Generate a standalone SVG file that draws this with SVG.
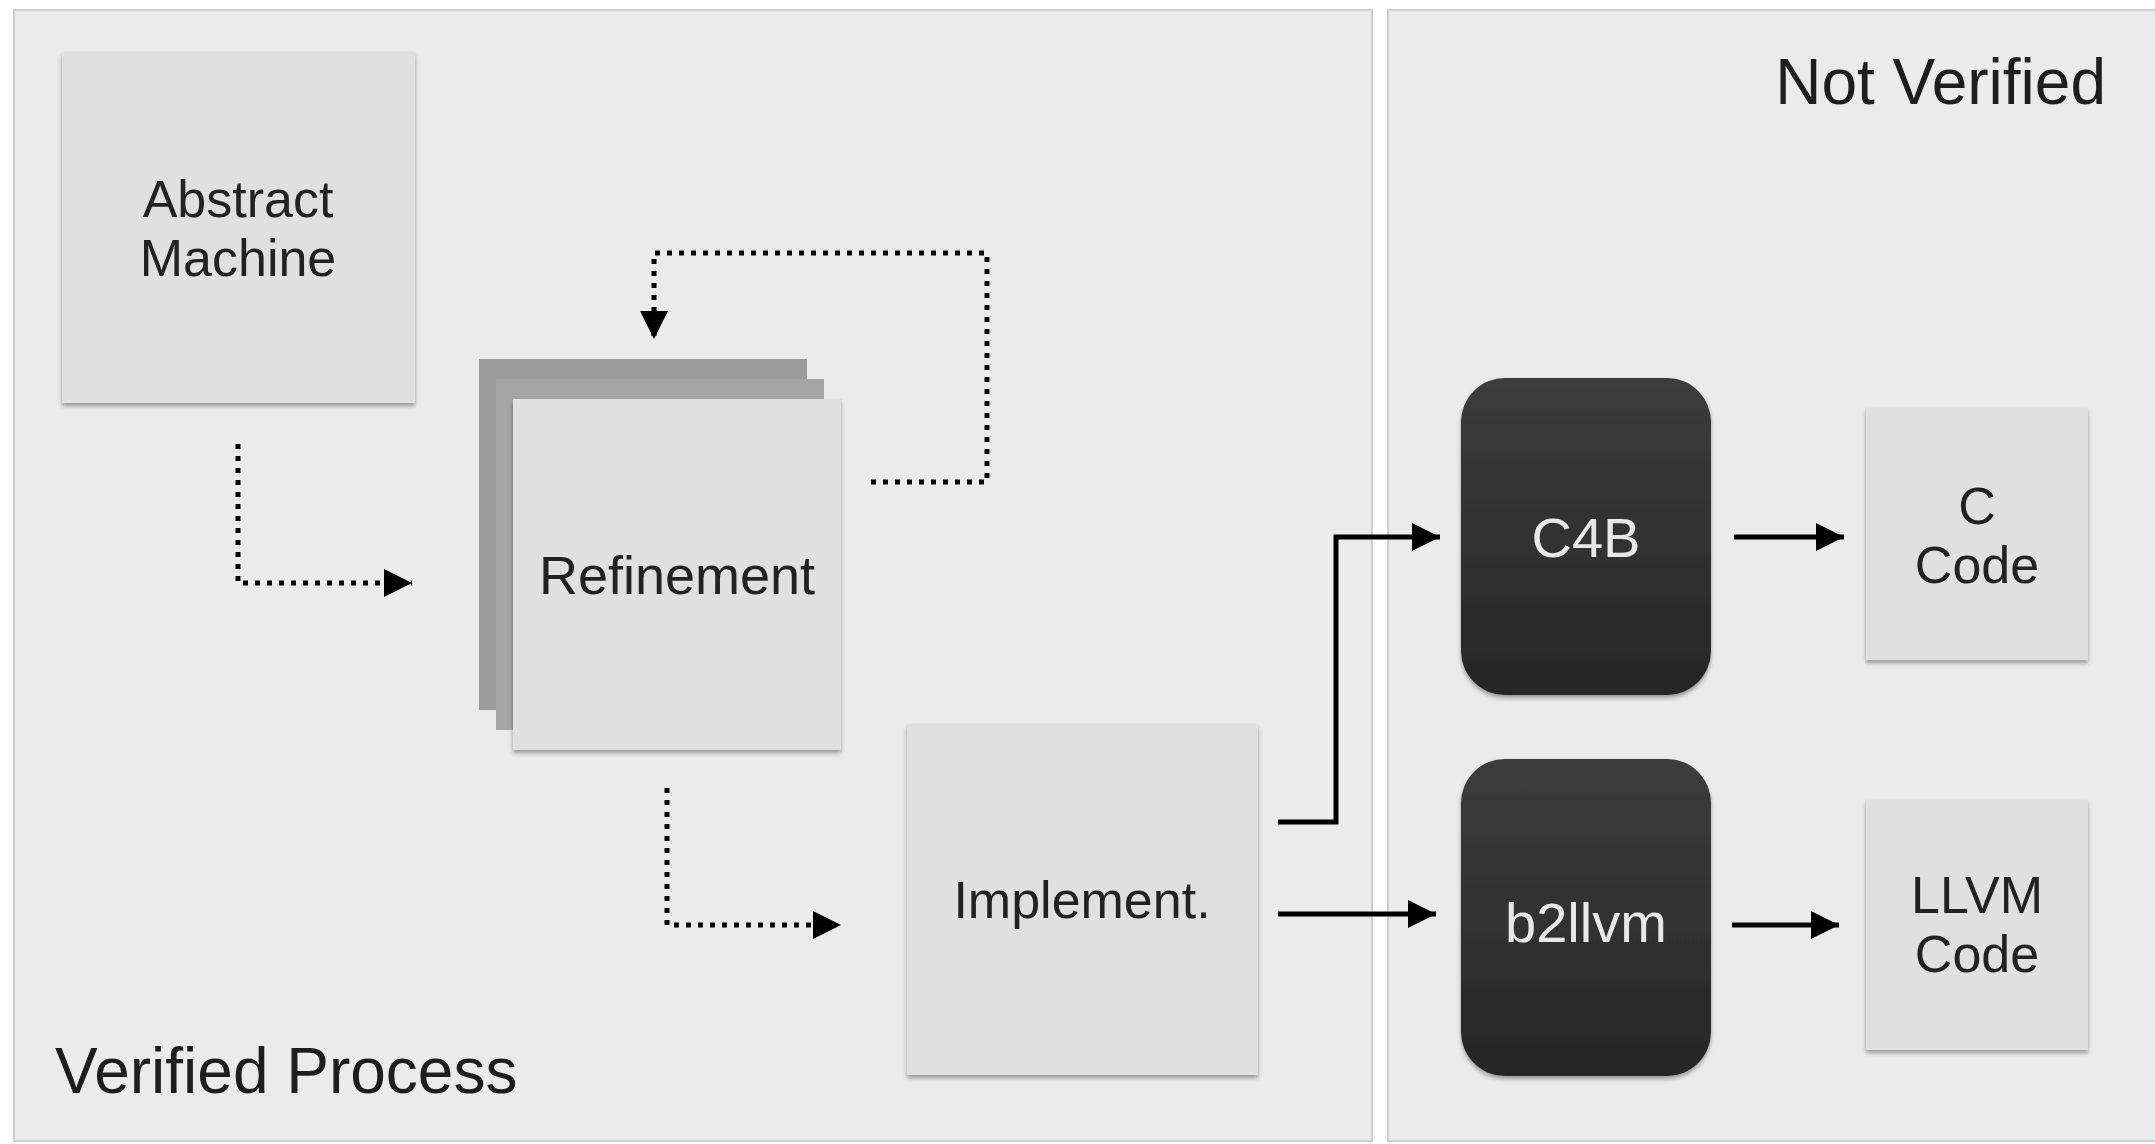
<svg xmlns="http://www.w3.org/2000/svg" width="2155" height="1144" viewBox="0 0 2155 1144">
  <defs>
    <style>
      .panel { fill: #ebebeb; stroke: #cfcfcf; stroke-width: 2; }
      .box { fill: #e0e0e0; filter: url(#shadow); }
      .dark { fill: url(#darkGrad); filter: url(#shadow); }
      .t { font-family: "Liberation Sans", Arial, sans-serif; font-size: 52px; fill: #222; text-anchor: middle; }
      .tw { font-family: "Liberation Sans", Arial, sans-serif; font-size: 56px; fill: #e8e8e8; text-anchor: middle; }
      .big { font-family: "Liberation Sans", Arial, sans-serif; font-size: 64px; fill: #1e1e1e; }
      .dot { fill: none; stroke: #000; stroke-width: 5; stroke-dasharray: 5 7; }
      .solid { fill: none; stroke: #000; stroke-width: 5; }
    </style>
    <linearGradient id="darkGrad" x1="0" y1="0" x2="0" y2="1">
      <stop offset="0" stop-color="#3c3c3c"/>
      <stop offset="1" stop-color="#262626"/>
    </linearGradient>
    <filter id="shadow" x="-10%" y="-10%" width="120%" height="125%">
      <feDropShadow dx="0" dy="3" stdDeviation="2" flood-color="#000" flood-opacity="0.35"/>
    </filter>
    <marker id="arr" viewBox="0 0 28 28" refX="28" refY="14" markerWidth="28" markerHeight="28" markerUnits="userSpaceOnUse" orient="auto">
      <path d="M0,0 L28,14 L0,28 Z" fill="#000"/>
    </marker>
  </defs>

  <rect x="0" y="0" width="2155" height="1144" fill="#ffffff"/>

  <g id="panel-verified">
    <rect class="panel" x="14" y="10" width="1358" height="1131"/>
    <text class="big" x="55" y="1093">Verified Process</text>
  </g>
  <g id="panel-not-verified">
    <rect class="panel" x="1388" y="10" width="780" height="1131"/>
    <text class="big" x="2106" y="104" text-anchor="end">Not Verified</text>
  </g>

  <g id="connectors">
    <path class="dot" d="M238,444 L238,583 L412,583" marker-end="url(#arr)"/>
    <path class="dot" d="M871,482 L987,482 L987,253 L654,253 L654,339" marker-end="url(#arr)"/>
    <path class="dot" d="M667,788 L667,925 L841,925" marker-end="url(#arr)"/>
    <path class="solid" d="M1278,822 L1336,822 L1336,537 L1440,537" marker-end="url(#arr)"/>
    <path class="solid" d="M1278,914 L1436,914" marker-end="url(#arr)"/>
    <path class="solid" d="M1734,537 L1844,537" marker-end="url(#arr)"/>
    <path class="solid" d="M1732,925 L1839,925" marker-end="url(#arr)"/>
  </g>

  <g id="node-abstract-machine">
    <rect class="box" x="62" y="52" width="353" height="351"/>
    <text class="t" x="238" y="217">Abstract</text>
    <text class="t" x="238" y="276">Machine</text>
  </g>

  <g id="node-refinement">
    <rect x="479" y="359" width="328" height="351" fill="#9b9b9b"/>
    <rect x="496" y="379" width="328" height="351" fill="#a5a5a5"/>
    <rect class="box" x="513" y="399" width="328" height="351"/>
    <text class="t" x="677" y="594" style="font-size:54px">Refinement</text>
  </g>

  <g id="node-implement">
    <rect class="box" x="907" y="724" width="351" height="351"/>
    <text class="t" x="1082" y="918">Implement.</text>
  </g>

  <g id="node-c4b">
    <rect class="dark" x="1461" y="378" width="250" height="317" rx="44" ry="44"/>
    <text class="tw" x="1586" y="557">C4B</text>
  </g>

  <g id="node-b2llvm">
    <rect class="dark" x="1461" y="759" width="250" height="317" rx="44" ry="44"/>
    <text class="tw" x="1586" y="942">b2llvm</text>
  </g>

  <g id="node-c-code">
    <rect class="box" x="1866" y="408" width="222" height="252"/>
    <text class="t" x="1977" y="524">C</text>
    <text class="t" x="1977" y="583">Code</text>
  </g>

  <g id="node-llvm-code">
    <rect class="box" x="1866" y="800" width="222" height="250"/>
    <text class="t" x="1977" y="913">LLVM</text>
    <text class="t" x="1977" y="972">Code</text>
  </g>
</svg>
